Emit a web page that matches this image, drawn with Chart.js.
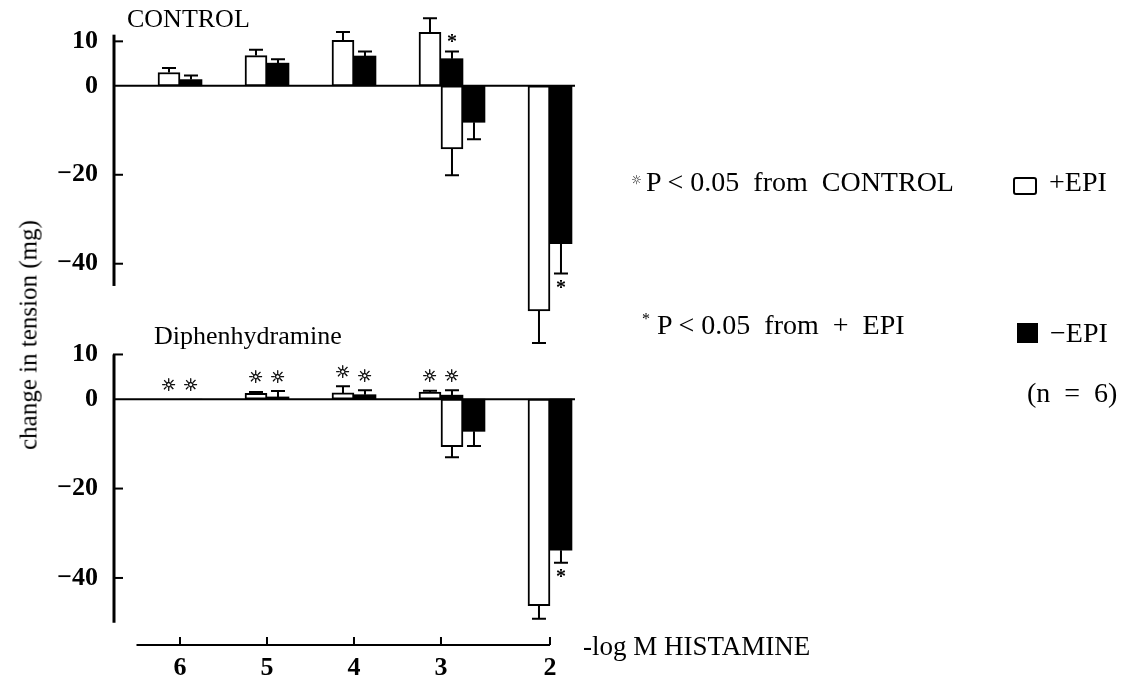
<!DOCTYPE html>
<html>
<head>
<meta charset="utf-8">
<script src="https://cdn.jsdelivr.net/npm/chart.js@4.4.1/dist/chart.umd.min.js"></script>
<style>
  body { margin: 0; background: #fff; }
  #wrap { position: relative; width: 1145px; height: 682px; font-family: "Liberation Serif", "DejaVu Serif", serif; color: #000; }
  canvas { position: absolute; left: 0; top: 0; }
  .txt { position: absolute; white-space: nowrap; line-height: 1; transform: translateY(-50%); }
  .box { position: absolute; border: 2px solid #000; box-sizing: border-box; }
</style>
</head>
<body>
<div id="wrap">
  <canvas id="controlChart" width="1145" height="682"></canvas>
  <canvas id="dphChart" width="1145" height="682"></canvas>

  <div class="txt" style="left:28px;top:335px;font-size:25px;transform:translate(-50%,-50%) rotate(-90deg);">change in tension (mg)</div>
  <div class="txt" style="left:127px;top:19px;font-size:26px;">CONTROL</div>
  <div class="txt" style="left:154px;top:336px;font-size:26px;">Diphenhydramine</div>
  <div class="txt" style="left:583px;top:646px;font-size:27px;">-log M HISTAMINE</div>

  <div class="txt" style="left:631px;top:180px;font-family:'DejaVu Sans';font-weight:bold;font-size:12px;">☼</div>
  <div class="txt" style="left:646px;top:182px;font-size:28px;">P &lt; 0.05&nbsp; from&nbsp; CONTROL</div>
  <div class="txt" style="left:642px;top:325px;font-size:28px;"><span style="font-size:16px;vertical-align:top;">*</span> P &lt; 0.05&nbsp; from&nbsp; +&nbsp; EPI</div>
  <div class="box" style="left:1013px;top:177px;width:24px;height:18px;border-radius:3px;"></div>
  <div class="txt" style="left:1049px;top:182px;font-size:28px;">+EPI</div>
  <div class="box" style="left:1017px;top:323px;width:21px;height:20px;background:#000;"></div>
  <div class="txt" style="left:1050px;top:333px;font-size:28px;">&minus;EPI</div>
  <div class="txt" style="left:1027px;top:393px;font-size:28px;">(n&nbsp; =&nbsp; 6)</div>
</div>

<script>
// -log M histamine
const doses = [6, 5, 4, 3, 2];
const doseLabels = ["6", "5", "4", "3", "2"];
const yTicks = [10, 0, -20, -40];

// CONTROL: contraction (rise) and relaxation (fall), mean and SEM in mg
const ctrlPlusRise = [3.0, 6.8, 10.2, 12.0, null];
const ctrlPlusRiseErr = [1.0, 1.3, 1.9, 3.2, null];
const ctrlMinusRise = [1.4, 5.1, 6.7, 6.1, null];
const ctrlMinusRiseErr = [0.9, 0.9, 1.0, 1.6, null];
const ctrlPlusFall = [null, null, null, -14.2, -50.6];
const ctrlPlusFallErr = [null, null, null, 5.9, 7.2];
const ctrlMinusFall = [null, null, null, -8.2, -35.5];
const ctrlMinusFallErr = [null, null, null, 3.8, 6.7];
const ctrlMinusRiseSig = ["", "", "", "*", ""];
const ctrlMinusFallSig = ["", "", "", "", "*"];

// Diphenhydramine
const dphPlusRise = [0, 1.3, 1.4, 1.6, null];
const dphPlusRiseErr = [0, 0.3, 1.5, 0.3, null];
const dphMinusRise = [0, 0.5, 1.0, 0.9, null];
const dphMinusRiseErr = [0, 1.3, 1.0, 1.1, null];
const dphPlusFall = [null, null, null, -10.6, -46.2];
const dphPlusFallErr = [null, null, null, 2.4, 2.9];
const dphMinusFall = [null, null, null, -7.2, -33.8];
const dphMinusFallErr = [null, null, null, 3.3, 2.8];
const dphPlusRiseSig = ["☼", "☼", "☼", "☼", ""];
const dphMinusRiseSig = ["☼", "☼", "☼", "☼", ""];
const dphMinusFallSig = ["", "", "", "", "*"];

const BAR = 22;
const SERIF = "'Liberation Serif', 'DejaVu Serif', serif";

function barSet(label, data, errors, marks, stack, filled) {
    return {
        label: label,
        data: data,
        errors: errors,
        marks: marks || [],
        stack: stack,
        backgroundColor: filled ? "#000" : "#fff",
        borderColor: "#000",
        borderWidth: filled ? 0 : 2,
        borderSkipped: false
    };
}

// axes, zero line, error bars and significance marks
const panelPlugin = {
    id: "panel",
    beforeDatasetsDraw(chart, args, opts) {
        const ctx = chart.ctx, y = chart.scales.y, area = chart.chartArea;
        ctx.save();
        ctx.strokeStyle = "#000";
        ctx.lineWidth = 2;
        ctx.beginPath();
        ctx.moveTo(area.left, y.getPixelForValue(0));
        ctx.lineTo(area.right, y.getPixelForValue(0));
        ctx.stroke();
        ctx.lineWidth = 3;
        ctx.beginPath();
        ctx.moveTo(area.left, y.getPixelForValue(opts.axisTop));
        ctx.lineTo(area.left, y.getPixelForValue(opts.axisBottom));
        ctx.stroke();
        ctx.lineWidth = 2;
        yTicks.forEach(v => {
            if (v === 0) return;
            const py = y.getPixelForValue(v);
            ctx.beginPath();
            ctx.moveTo(area.left - 1, py);
            ctx.lineTo(area.left + 9, py);
            ctx.stroke();
        });
        ctx.restore();
    },
    afterDatasetsDraw(chart) {
        const ctx = chart.ctx, y = chart.scales.y;
        ctx.save();
        ctx.strokeStyle = "#000";
        ctx.fillStyle = "#000";
        ctx.lineWidth = 2;
        chart.data.datasets.forEach((ds, i) => {
            const meta = chart.getDatasetMeta(i);
            meta.data.forEach((bar, j) => {
                const v = ds.data[j];
                if (v === null) return;
                const e = ds.errors[j] || 0;
                const dir = v < 0 ? -1 : 1;
                const end = y.getPixelForValue(v + dir * e);
                if (e > 0) {
                    ctx.beginPath();
                    ctx.moveTo(bar.x, bar.y);
                    ctx.lineTo(bar.x, end);
                    ctx.moveTo(bar.x - 7, end);
                    ctx.lineTo(bar.x + 7, end);
                    ctx.stroke();
                }
                const m = ds.marks[j];
                if (m) {
                    const edge = dir > 0 ? Math.min(end, bar.y, y.getPixelForValue(0)) : Math.max(end, bar.y);
                    ctx.textAlign = "center";
                    ctx.textBaseline = "middle";
                    if (m === "☼") {
                        const py = edge - 13;
                        ctx.font = "bold 17px 'DejaVu Sans'";
                        ctx.fillText(m, bar.x, py);
                        ctx.lineWidth = 0.5;
                        ctx.strokeText(m, bar.x, py);
                        ctx.lineWidth = 2;
                    } else {
                        ctx.font = "bold 20px " + SERIF;
                        ctx.fillText(m, bar.x, edge - dir * 12 + 3);
                    }
                }
            });
        });
        ctx.restore();
    },
    afterDraw(chart, args, opts) {
        if (!opts.xAxis) return;
        const ctx = chart.ctx, x = chart.scales.x, area = chart.chartArea;
        const rise = chart.data.datasets[0].data;
        // tick under the pair of bars shown at each dose
        const ticks = doses.map((d, i) => x.getPixelForValue(d) + (rise[i] === null ? BAR / 2 : -BAR / 2));
        const py = area.bottom;
        ctx.save();
        ctx.strokeStyle = "#000";
        ctx.lineWidth = 2;
        ctx.beginPath();
        ctx.moveTo(ticks[0] - (ticks[1] - ticks[0]) / 2, py);
        ctx.lineTo(ticks[ticks.length - 1], py);
        ticks.forEach(t => {
            ctx.moveTo(t, py);
            ctx.lineTo(t, py - 8);
        });
        ctx.stroke();
        ctx.fillStyle = "#000";
        ctx.font = "bold 26px " + SERIF;
        ctx.textAlign = "center";
        ctx.textBaseline = "middle";
        ticks.forEach((t, i) => ctx.fillText(doseLabels[i], t, py + 23));
        ctx.restore();
    }
};

function makePanel(canvasId, sets, yMin, yMax, padding, axisOpts) {
    const ctx = document.getElementById(canvasId).getContext("2d");
    return new Chart(ctx, {
        type: "bar",
        data: { labels: doses, datasets: sets },
        options: {
            responsive: false,
            animation: false,
            devicePixelRatio: 1,
            barThickness: BAR,
            layout: { padding: padding },
            plugins: {
                legend: { display: false },
                tooltip: { enabled: false },
                panel: axisOpts
            },
            scales: {
                x: { type: "linear", reverse: true, offset: false, min: 1.586, max: 6.885, display: false },
                y: {
                    min: yMin,
                    max: yMax,
                    afterFit: s => { s.width = 114; },
                    afterBuildTicks: s => { s.ticks = yTicks.map(v => ({ value: v })); },
                    grid: { display: false },
                    border: { display: false },
                    ticks: {
                        padding: 8,
                        color: "#000",
                        font: { family: SERIF, size: 26, weight: "bold" },
                        callback: v => String(v).replace("-", "\u2212")
                    }
                }
            }
        },
        plugins: [panelPlugin]
    });
}

makePanel("controlChart", [
    barSet("+EPI", ctrlPlusRise, ctrlPlusRiseErr, null, "a", false),
    barSet("-EPI", ctrlMinusRise, ctrlMinusRiseErr, ctrlMinusRiseSig, "b", true),
    barSet("+EPI", ctrlPlusFall, ctrlPlusFallErr, null, "b", false),
    barSet("-EPI", ctrlMinusFall, ctrlMinusFallErr, ctrlMinusFallSig, "c", true)
], -58.5, 13, { left: 0, right: 570, top: 28, bottom: 336 }, { axisTop: 11.5, axisBottom: -45 });

makePanel("dphChart", [
    barSet("+EPI", dphPlusRise, dphPlusRiseErr, dphPlusRiseSig, "a", false),
    barSet("-EPI", dphMinusRise, dphMinusRiseErr, dphMinusRiseSig, "b", true),
    barSet("+EPI", dphPlusFall, dphPlusFallErr, null, "b", false),
    barSet("-EPI", dphMinusFall, dphMinusFallErr, dphMinusFallSig, "c", true)
], -55, 11, { left: 0, right: 570, top: 350, bottom: 37 }, { axisTop: 10, axisBottom: -50, xAxis: true });
</script>
</body>
</html>
